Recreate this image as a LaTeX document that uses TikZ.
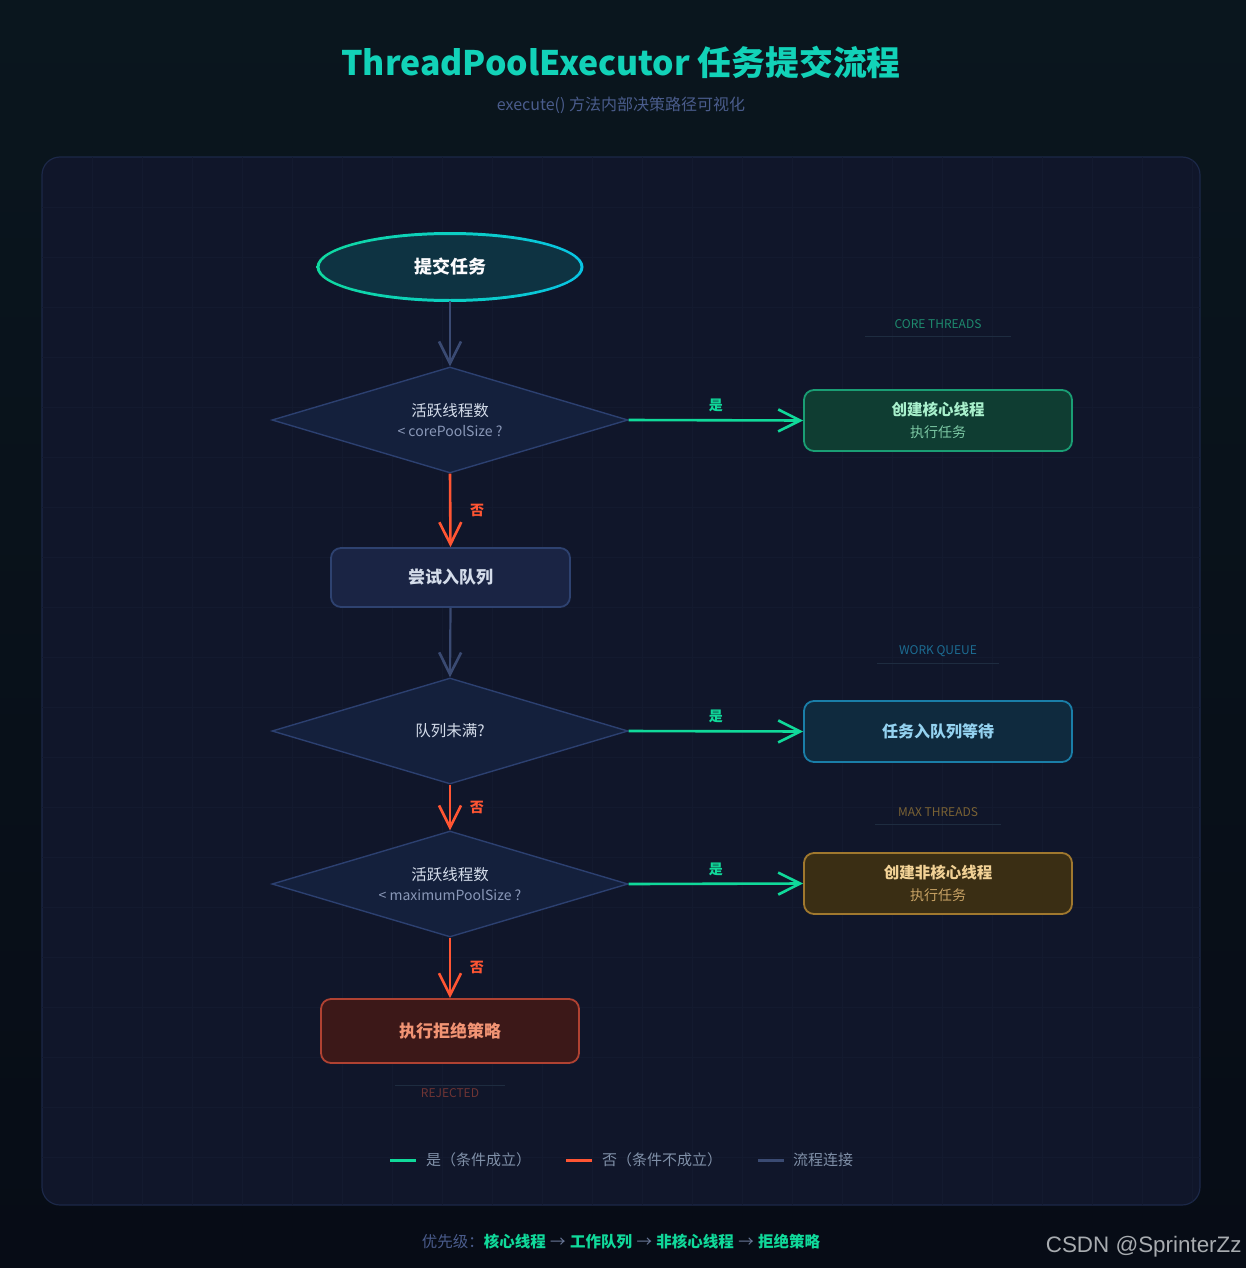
\documentclass[tikz,border=0pt]{standalone}
\usepackage{fontspec}
\setmainfont{Noto Sans CJK SC}
\newfontfamily\markfont{Liberation Sans}
\usetikzlibrary{shapes.geometric,arrows.meta}
\definecolor{bgtop}{HTML}{0A161E}
\definecolor{bgbot}{HTML}{070C16}
\definecolor{panelfill}{HTML}{10162A}
\definecolor{paneledge}{HTML}{1C2848}
\definecolor{gridln}{HTML}{131A2F}
\definecolor{titleteal}{HTML}{12D2B8}
\definecolor{subtle}{HTML}{4A5C8C}
\definecolor{slateln}{HTML}{3A4A72}
\definecolor{diafill}{HTML}{14203C}
\definecolor{diaedge}{HTML}{2C4070}
\definecolor{txtlight}{HTML}{D4DCEA}
\definecolor{txtdim}{HTML}{8A98B8}
\definecolor{yesgreen}{HTML}{10D99A}
\definecolor{nored}{HTML}{FF5533}
\definecolor{startfill}{HTML}{0E3342}
\definecolor{startgreen}{HTML}{10D9A0}
\definecolor{startcyan}{HTML}{08C4E4}
\definecolor{tryfill}{HTML}{1A2444}
\definecolor{tryedge}{HTML}{2E4270}
\definecolor{corefill}{HTML}{0F3D32}
\definecolor{coreedge}{HTML}{1A9E74}
\definecolor{coretxt}{HTML}{A8F0CC}
\definecolor{coresub}{HTML}{7CC8A4}
\definecolor{queuefill}{HTML}{0F2A3E}
\definecolor{queueedge}{HTML}{1A7EA8}
\definecolor{queuetxt}{HTML}{94D2F0}
\definecolor{maxfill}{HTML}{3A2E14}
\definecolor{maxedge}{HTML}{A0782E}
\definecolor{maxtxt}{HTML}{F2D296}
\definecolor{maxsub}{HTML}{C8A264}
\definecolor{rejfill}{HTML}{3C1818}
\definecolor{rejedge}{HTML}{B04232}
\definecolor{rejtxt}{HTML}{F29474}
\definecolor{coretag}{HTML}{1E8A6E}
\definecolor{queuetag}{HTML}{1C6C92}
\definecolor{maxtag}{HTML}{7A6234}
\definecolor{rejtag}{HTML}{6E3434}
\definecolor{tagline}{HTML}{1E2C40}
\definecolor{legendtxt}{HTML}{8090A8}
\definecolor{arrowgray}{HTML}{6A7898}
\definecolor{markgray}{HTML}{A8ACB0}
\begin{document}
\begin{tikzpicture}[x=0.5pt,y=-0.5pt,
  >={Straight Barb[length=11pt,width=11pt,line width=1.3pt]},
  flow/.style={draw=slateln,line width=1.1pt,->},
  yes/.style={draw=yesgreen,line width=1.3pt,->},
  no/.style={draw=nored,line width=1.3pt,->},
  yeslbl/.style={text=yesgreen,font=\bfseries\fontsize{7}{8}\selectfont},
  nolbl/.style={text=nored,font=\bfseries\fontsize{7}{8}\selectfont},
  decide/.style={diamond,shape aspect=3.36,draw=diaedge,fill=diafill,line width=0.7pt,
    minimum width=178pt,minimum height=53pt,inner sep=0pt,align=center,text=txtlight},
  stepbox/.style={rectangle,rounded corners=5pt,line width=0.9pt,minimum width=134pt,
    minimum height=30.5pt,align=center},
  tag/.style={font=\fontsize{6}{7}\selectfont},
  legend/.style={text=legendtxt,font=\fontsize{7.5}{9}\selectfont,anchor=west}]
% background and panel
\shade[top color=bgtop,bottom color=bgbot] (0,0) rectangle (1246,1268);
\draw[fill=panelfill,draw=paneledge,line width=0.6pt,rounded corners=9pt] (42,157) rectangle (1200,1205);
\begin{scope}
\clip[rounded corners=9pt] (42,157) rectangle (1200,1205);
\foreach \gx in {92,142,...,1192} \draw[gridln,line width=0.5pt] (\gx,157)--(\gx,1205);
\foreach \gy in {207,257,...,1205} \draw[gridln,line width=0.5pt] (42,\gy)--(1200,\gy);
\end{scope}
% title
\node (title) at (621,62) {\color{titleteal}\bfseries\fontsize{16.9}{20}\selectfont ThreadPoolExecutor 任务提交流程};
\node (subtitle) at (621,105) {\color{subtle}\fontsize{8}{10}\selectfont execute() 方法内部决策路径可视化};
% nodes
\node[ellipse,fill=startfill,minimum width=132pt,minimum height=34pt,text=white!90!txtlight,
  font=\bfseries\fontsize{9}{11}\selectfont] (submit) at (450,267) {提交任务};
\shade[left color=startgreen,right color=startcyan,even odd rule]
  (450,267) ellipse (133.5 and 35) (450,267) ellipse (130.5 and 32);
\node[decide] (corechk) at (450,420) {{\fontsize{7.75}{9}\selectfont 活跃线程数}\\[-2pt]
  {\color{txtdim}\fontsize{7}{9}\selectfont < corePoolSize ?}};
\node[stepbox,fill=tryfill,draw=tryedge,minimum width=119.5pt,minimum height=29.5pt,
  text=txtlight,font=\bfseries\fontsize{8.5}{10}\selectfont] (tryq) at (450.5,577.5) {尝试入队列};
\node[decide,font=\fontsize{7.75}{9}\selectfont] (queuechk) at (450,731) {队列未满?};
\node[decide] (maxchk) at (450,884) {{\fontsize{7.75}{9}\selectfont 活跃线程数}\\[-2pt]
  {\color{txtdim}\fontsize{7}{9}\selectfont < maximumPoolSize ?}};
\node[stepbox,fill=rejfill,draw=rejedge,minimum width=129pt,minimum height=32pt,
  text=rejtxt,font=\bfseries\fontsize{8.5}{10}\selectfont] (reject) at (450,1031) {执行拒绝策略};
\node[stepbox,fill=corefill,draw=coreedge] (coreth) at (938,420.5)
  {{\color{coretxt}\bfseries\fontsize{7.75}{9}\selectfont 创建核心线程}\\[-1pt]
   {\color{coresub}\fontsize{7}{9}\selectfont 执行任务}};
\node[stepbox,fill=queuefill,draw=queueedge,text=queuetxt,
  font=\bfseries\fontsize{8}{10}\selectfont] (enqueue) at (938,731.5) {任务入队列等待};
\node[stepbox,fill=maxfill,draw=maxedge] (maxth) at (938,883.5)
  {{\color{maxtxt}\bfseries\fontsize{7.75}{9}\selectfont 创建非核心线程}\\[-1pt]
   {\color{maxsub}\fontsize{7}{9}\selectfont 执行任务}};
% tags
\node[tag,text=coretag] (coretag) at (938,324) {CORE THREADS};
\draw[tagline,line width=0.5pt] (865,336)--(1011,336);
\node[tag,text=queuetag] (queuetag) at (938,651) {WORK QUEUE};
\draw[tagline,line width=0.5pt] (877,663)--(999,663);
\node[tag,text=maxtag] (maxtag) at (938,812) {MAX THREADS};
\draw[tagline,line width=0.5pt] (875,824)--(1001,824);
\node[tag,text=rejtag] (rejtag) at (450,1093) {REJECTED};
\draw[tagline,line width=0.5pt] (395,1085)--(505,1085);
% connectors
\draw[flow] (submit.south)--(corechk.north);
\draw[yes] (corechk.east)--node[yeslbl,above=0pt]{是}(coreth.west);
\draw[no] (corechk.south)--node[nolbl,right=6pt]{否}(tryq.north);
\draw[flow] (tryq.south)--(queuechk.north);
\draw[yes] (queuechk.east)--node[yeslbl,above=0pt]{是}(enqueue.west);
\draw[no] (queuechk.south)--node[nolbl,right=6pt]{否}(maxchk.north);
\draw[yes] (maxchk.east)--node[yeslbl,above=0pt]{是}(maxth.west);
\draw[no] (maxchk.south)--node[nolbl,right=6pt]{否}(reject.north);
% legend
\coordinate (lg1) at (390,1160); \coordinate (lg1e) at (416,1160);
\draw[yesgreen,line width=1.5pt] (lg1)--(lg1e);
\node[legend] (lgyes) at (419,1160) {是（条件成立）};
\coordinate (lg2) at (566,1160); \coordinate (lg2e) at (592,1160);
\draw[nored,line width=1.5pt] (lg2)--(lg2e);
\node[legend] (lgno) at (595,1160) {否（条件不成立）};
\coordinate (lg3) at (758,1160); \coordinate (lg3e) at (784,1160);
\draw[slateln,line width=1.5pt] (lg3)--(lg3e);
\node[legend] (lgflow) at (786,1160) {流程连接};
% footer
\node[font=\fontsize{7.75}{9}\selectfont] (footer) at (621,1242)
  {{\color{subtle}优先级：}{\color{yesgreen}\bfseries 核心线程}\hspace{2.2pt}{\color{arrowgray}→}\hspace{2.2pt}%
   {\color{yesgreen}\bfseries 工作队列}\hspace{2.2pt}{\color{arrowgray}→}\hspace{2.2pt}%
   {\color{yesgreen}\bfseries 非核心线程}\hspace{2.2pt}{\color{arrowgray}→}\hspace{2.2pt}%
   {\color{yesgreen}\bfseries 拒绝策略}};
\node[anchor=east,inner sep=0pt,text=markgray,font=\markfont\fontsize{11.2}{13}\selectfont] (mark) at (1242,1247) {CSDN @SprinterZz};
\end{tikzpicture}
\end{document}
